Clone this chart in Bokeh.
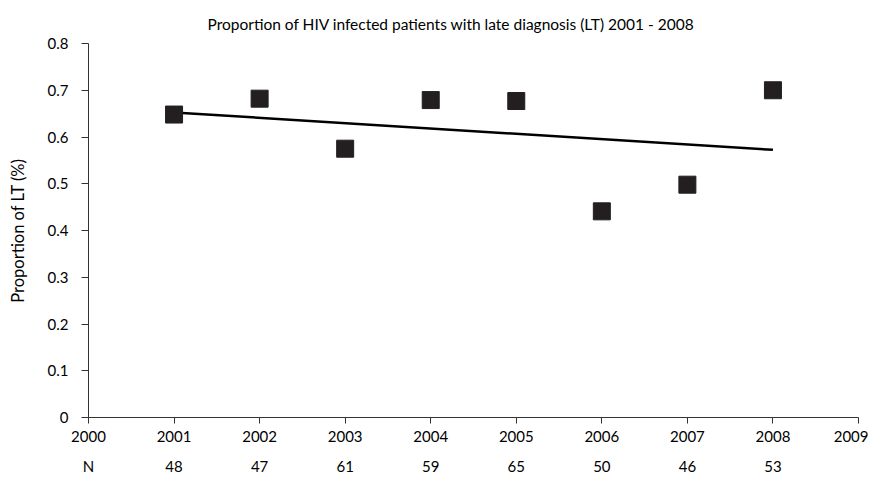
import numpy as np
from bokeh.plotting import figure
from bokeh.models import LinearAxis, FixedTicker, Range1d
from bokeh.embed import file_html
from bokeh.resources import INLINE

years = [2001, 2002, 2003, 2004, 2005, 2006, 2007, 2008]
proportion = [0.648, 0.682, 0.575, 0.679, 0.677, 0.441, 0.498, 0.700]
n_patients = [48, 47, 61, 59, 65, 50, 46, 53]
x_ticks = [2000, 2001, 2002, 2003, 2004, 2005, 2006, 2007, 2008, 2009]
y_ticks = [0, 0.1, 0.2, 0.3, 0.4, 0.5, 0.6, 0.7, 0.8]

FONT = "Lato"
DARK = "#231f20"

# linear trend fitted to the points
slope, intercept = np.polyfit(years, proportion, 1)
trend_x = [years[0], years[-1]]
trend_y = [slope * x + intercept for x in trend_x]

p = figure(width=868, height=477, output_backend="svg", toolbar_location=None,
           x_range=Range1d(2000, 2009), y_range=Range1d(0, 0.8),
           min_border_left=88, min_border_right=10, min_border_top=43,
           min_border_bottom=5, x_axis_location=None, y_axis_location=None)
p.background_fill_color = None
p.border_fill_color = "white"
p.outline_line_color = None
p.xgrid.visible = False
p.ygrid.visible = False

p.title.text = "Proportion of HIV infected patients with late diagnosis (LT) 2001 - 2008"
p.title.align = "left"
p.title.offset = 119
p.title.text_font = FONT
p.title.text_font_size = "15.5px"
p.title.text_font_style = "normal"
p.title.text_color = "black"
p.title.standoff = 22

yaxis = LinearAxis(ticker=FixedTicker(ticks=y_ticks), axis_label="Proportion of LT (%)")
yaxis.major_tick_out = 7
yaxis.major_tick_in = 0
yaxis.minor_tick_out = 0
yaxis.minor_tick_in = 0
yaxis.axis_line_color = "#333333"
yaxis.major_tick_line_color = "#333333"
yaxis.major_label_text_font = FONT
yaxis.major_label_text_font_size = "15px"
yaxis.major_label_text_color = "black"
yaxis.major_label_standoff = 13
yaxis.major_label_overrides = {0: "0"}
yaxis.axis_label_text_font = FONT
yaxis.axis_label_text_font_size = "16.5px"
yaxis.axis_label_text_font_style = "normal"
yaxis.axis_label_text_color = "black"
yaxis.axis_label_standoff = 17
p.add_layout(yaxis, "left")

xaxis = LinearAxis(ticker=FixedTicker(ticks=x_ticks))
xaxis.major_tick_out = 6
xaxis.major_tick_in = 0
xaxis.minor_tick_out = 0
xaxis.minor_tick_in = 0
xaxis.axis_line_color = "#333333"
xaxis.major_tick_line_color = "#333333"
xaxis.major_label_text_font = FONT
xaxis.major_label_text_font_size = "15px"
xaxis.major_label_text_color = "black"
xaxis.major_label_standoff = 7
p.add_layout(xaxis, "below")

naxis = LinearAxis(ticker=FixedTicker(ticks=[2000] + years))
naxis.major_label_overrides = {2000: "N", **{y: str(n) for y, n in zip(years, n_patients)}}
naxis.axis_line_color = None
naxis.major_tick_line_color = None
naxis.minor_tick_line_color = None
naxis.major_label_text_font = FONT
naxis.major_label_text_font_size = "15px"
naxis.major_label_text_color = "black"
naxis.major_label_standoff = 6
p.add_layout(naxis, "below")

p.line(trend_x, trend_y, line_color="black", line_width=2.5)
p.scatter(years, proportion, marker="square", size=17, fill_color=DARK, line_color=DARK)

open("out.html", "w").write(file_html(p, INLINE))
